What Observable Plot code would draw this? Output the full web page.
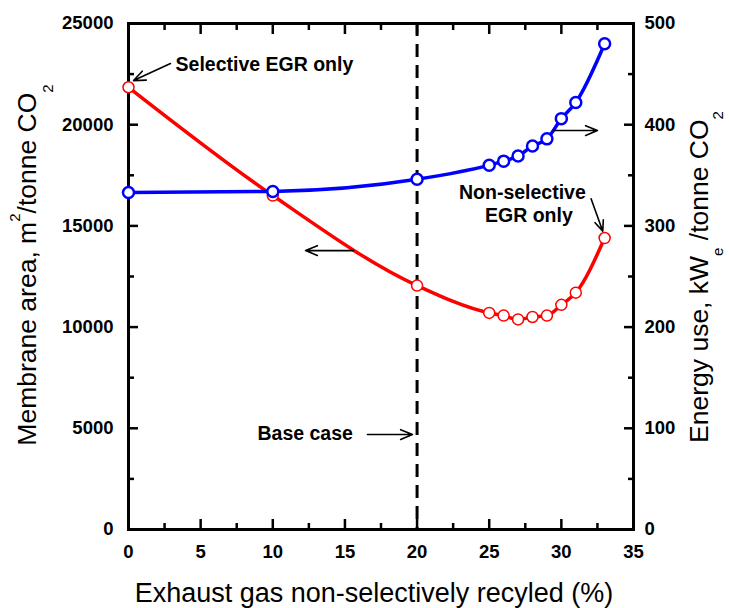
<!DOCTYPE html>
<html><head><meta charset="utf-8">
<script src="https://cdn.jsdelivr.net/npm/d3@7"></script>
<script src="https://cdn.jsdelivr.net/npm/@observablehq/plot@0.6"></script>
<style>body{margin:0;background:#fff} svg{display:block}</style>
</head><body><div id="chart"></div>
<script>
// ---- data ----
const recycled     = [0, 10, 20, 25, 26, 27, 28, 29, 30, 31, 33];
const membraneArea = [21850, 16500, 12050, 10700, 10570, 10380, 10500, 10570, 11100, 11700, 14400];
const energyUse    = [333, 334, 346, 360, 364, 369, 379, 386, 406, 422, 480];

const xTicks      = [0, 5, 10, 15, 20, 25, 30, 35];
const xMinorTicks = [2.5, 7.5, 12.5, 17.5, 22.5, 27.5, 32.5];
const areaTicks      = [0, 5000, 10000, 15000, 20000, 25000];
const areaMinorTicks = [2500, 7500, 12500, 17500, 22500];
const energyTicks      = [0, 100, 200, 300, 400, 500];
const energyMinorTicks = [50, 150, 250, 350, 450];
const energyToArea = 50; // right axis 0–500 aligned with left axis 0–25000
const baseCase = 20;

const noteLabels = ["Selective EGR only", "Non-selective", "EGR only", "Base case"];
const noteX      = [3.26, 27.3, 27.75, 8.94];
const noteY      = [22970, 16650, 15510, 4740];
const noteAnchor = ["start", "middle", "middle", "start"];

const arrowX1 = [2.91, 32.06, 29.45, 15.59, 16.56];
const arrowY1 = [23020, 16340, 19710, 13780, 4690];
const arrowX2 = [0.35, 32.87, 32.5, 12.27, 19.68];
const arrowY2 = [22180, 14740, 19710, 13780, 4690];

// ---- tables ----
const rows = recycled.map((x, i) => ({x, area: membraneArea[i], energy: energyUse[i]}));
const notes = noteLabels.map((t, i) => ({t, x: noteX[i], y: noteY[i], a: noteAnchor[i]}));
const arrows = arrowX1.map((x1, i) => ({x1, y1: arrowY1[i], x2: arrowX2[i], y2: arrowY2[i]}));
const toArea = d => d * energyToArea;
const plain = d => String(d);

const FONT = "'Liberation Sans', Arial, Helvetica, sans-serif";
const noteStyle = {x: "x", y: "y", text: "t", fontSize: 19.5, fontWeight: "bold", fill: "black"};

const chart = Plot.plot({
  width: 729, height: 608,
  marginLeft: 128, marginRight: 96, marginTop: 23, marginBottom: 79,
  style: {fontFamily: FONT, fontSize: "18.5px", fontWeight: "bold", color: "black", background: "white", overflow: "visible"},
  x: {domain: [0, 35]},
  y: {domain: [0, 25000]},
  marks: [
    // inward ticks
    Plot.axisX(xTicks, {anchor: "bottom", tickSize: -10, strokeWidth: 2.5, fill: "none", label: null}),
    Plot.axisX(xMinorTicks, {anchor: "bottom", tickSize: -6, strokeWidth: 2.5, fill: "none", label: null}),
    Plot.axisX(xTicks, {anchor: "top", tickSize: -10, strokeWidth: 2.5, fill: "none", label: null}),
    Plot.axisX(xMinorTicks, {anchor: "top", tickSize: -6, strokeWidth: 2.5, fill: "none", label: null}),
    Plot.axisY(areaTicks, {anchor: "left", tickSize: -10, strokeWidth: 2.5, fill: "none", label: null}),
    Plot.axisY(areaMinorTicks, {anchor: "left", tickSize: -6, strokeWidth: 2.5, fill: "none", label: null}),
    Plot.axisY(energyTicks.map(toArea), {anchor: "right", tickSize: -10, strokeWidth: 2.5, fill: "none", label: null}),
    Plot.axisY(energyMinorTicks.map(toArea), {anchor: "right", tickSize: -6, strokeWidth: 2.5, fill: "none", label: null}),
    // tick labels
    Plot.axisX(xTicks, {anchor: "bottom", tickSize: 0, tickPadding: 15, tickFormat: plain, label: null}),
    Plot.axisY(areaTicks, {anchor: "left", tickSize: 0, tickPadding: 15, tickFormat: plain, label: null}),
    Plot.axisY(energyTicks.map(toArea), {anchor: "right", tickSize: 0, tickPadding: 11, tickFormat: d => String(d / energyToArea), label: null}),
    Plot.frame({strokeWidth: 3}),
    // base case
    Plot.ruleX([baseCase], {stroke: "black", strokeWidth: 3, strokeDasharray: "13,8"}),
    // series
    Plot.line(rows, {x: "x", y: "area", stroke: "#ff0000", strokeWidth: 3.5, curve: "monotone-x"}),
    Plot.dot(rows, {x: "x", y: "area", r: 5.5, fill: "white", stroke: "#ff0000", strokeWidth: 1.5}),
    Plot.line(rows, {x: "x", y: d => toArea(d.energy), stroke: "#0000ff", strokeWidth: 3.5, curve: "monotone-x"}),
    Plot.dot(rows, {x: "x", y: d => toArea(d.energy), r: 5.5, fill: "white", stroke: "#0000ff", strokeWidth: 2.5}),
    // annotations
    Plot.arrow(arrows, {x1: "x1", y1: "y1", x2: "x2", y2: "y2", stroke: "black", strokeWidth: 1.6, headLength: 12, headAngle: 45}),
    Plot.text(notes, {...noteStyle, filter: d => d.a === "start", textAnchor: "start"}),
    Plot.text(notes, {...noteStyle, filter: d => d.a === "middle", textAnchor: "middle"})
  ]
});

document.getElementById("chart").appendChild(chart);

// axis titles with super/subscripts
const svg = d3.select(chart);
const titleStyle = sel => sel.attr("font-family", FONT).attr("font-size", 26.5).attr("font-weight", "normal").attr("fill", "black");

const lt = svg.append("text").call(titleStyle)
  .attr("text-anchor", "middle").attr("transform", "translate(36,265) rotate(-90)");
lt.append("tspan").text("Membrane area, m");
lt.append("tspan").attr("dy", -16).attr("font-size", 15).text("2");
lt.append("tspan").attr("dy", 16).text("/tonne CO");
lt.append("tspan").attr("dy", 17).attr("font-size", 15).text("2");

const rt = svg.append("text").call(titleStyle)
  .attr("text-anchor", "middle").attr("transform", "translate(708,277) rotate(-90)");
rt.append("tspan").text("Energy use, kW");
rt.append("tspan").attr("dy", 15).attr("font-size", 15).text("e");
rt.append("tspan").attr("dy", -15).text(" /tonne CO");
rt.append("tspan").attr("dy", 15).attr("font-size", 15).text("2");

svg.append("text").call(titleStyle)
  .attr("font-size", 27)
  .attr("text-anchor", "middle").attr("x", 374).attr("y", 602)
  .text("Exhaust gas non-selectively recyled (%)");
</script>
</body></html>
